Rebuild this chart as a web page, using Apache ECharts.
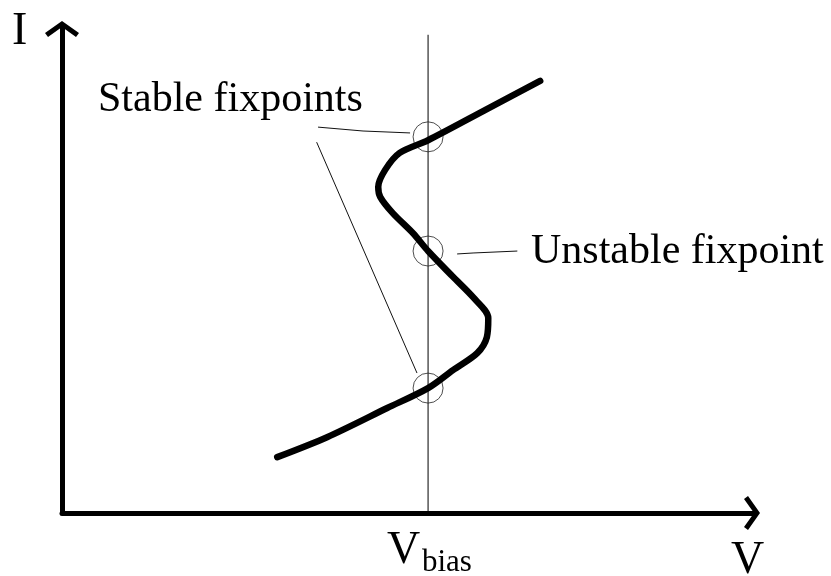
<!DOCTYPE html>
<html>
<head>
<meta charset="utf-8">
<script src="https://cdn.jsdelivr.net/npm/echarts@6/dist/echarts.min.js"></script>
<style>
  html, body { margin: 0; padding: 0; background: #fff; }
  #chart { width: 831px; height: 576px; }
</style>
</head>
<body>
<div id="chart"></div>
<script>
// S-shaped I(V) curve (V, I in arbitrary units 0..10)
var curveV = [3.11, 3.83, 4.70, 5.29, 5.65, 6.00, 6.14, 6.16, 5.94, 5.65, 5.29, 5.07, 4.78, 4.60, 4.57, 4.67, 4.88, 5.29, 6.14, 6.91];
var curveI = [1.15, 1.56, 2.16, 2.57, 2.94, 3.29, 3.62, 4.01, 4.44, 4.86, 5.39, 5.76, 6.17, 6.50, 6.71, 7.06, 7.41, 7.67, 8.31, 8.89];

var vBias = 5.29;
var vBiasTop = 9.84;

// fixpoints on the bias line
var fixI = [7.74, 5.39, 2.57];

// leader lines from the labels
var stableLeadV = [3.70, 4.35, 5.03];
var stableLeadI = [7.94, 7.86, 7.82];
var stableLead2V = [3.68, 5.13];
var stableLead2I = [7.63, 2.88];
var unstableLeadV = [5.71, 5.94, 6.58];
var unstableLeadI = [5.33, 5.35, 5.39];

function pairs(xs, ys) {
    var out = [];
    for (var i = 0; i < xs.length; i++) {
        out.push([xs[i], ys[i]]);
    }
    return out;
}

var serif = 'Liberation Serif';
var chevron = 'path://M17,0 L34,12 L31,16 L17,6 L3,16 L0,12 Z';

var axisCommon = {
    type: 'value',
    min: 0,
    max: 10,
    axisLine: {
        show: true,
        symbol: ['none', chevron],
        symbolSize: [34, 16],
        symbolOffset: [0, -2],
        lineStyle: { color: '#000', width: 5 }
    },
    axisTick: { show: false },
    axisLabel: { show: false },
    splitLine: { show: false }
};

var myChart = echarts.init(document.getElementById('chart'));

var option = {
    animation: false,
    backgroundColor: '#fff',
    grid: { left: 62, right: 77, top: 27, bottom: 63, containLabel: false },
    xAxis: axisCommon,
    yAxis: axisCommon,
    series: [
        {
            // bias line
            type: 'line',
            data: [[vBias, 0], [vBias, vBiasTop]],
            symbol: 'none',
            lineStyle: { color: '#000', width: 1 },
            z: 2
        },
        {
            type: 'line',
            data: pairs(stableLeadV, stableLeadI),
            symbol: 'none',
            lineStyle: { color: '#111', width: 1 },
            z: 2
        },
        {
            type: 'line',
            data: pairs(stableLead2V, stableLead2I),
            symbol: 'none',
            lineStyle: { color: '#111', width: 1 },
            z: 2
        },
        {
            type: 'line',
            data: pairs(unstableLeadV, unstableLeadI),
            symbol: 'none',
            lineStyle: { color: '#111', width: 1 },
            z: 2
        },
        {
            // fixpoint circles
            type: 'scatter',
            data: fixI.map(function (v) { return [vBias, v]; }),
            symbol: 'circle',
            symbolSize: 30,
            itemStyle: { color: 'rgba(0,0,0,0)', borderColor: '#222', borderWidth: 1 },
            z: 3
        },
        {
            type: 'line',
            data: pairs(curveV, curveI),
            symbol: 'none',
            smooth: 0.3,
            lineStyle: { color: '#000', width: 6.5, cap: 'round', join: 'round' },
            z: 4
        }
    ],
    graphic: [
        { type: 'text', left: 12, top: 9, style: { text: 'I', font: '46px "' + serif + '"', fill: '#000' } },
        { type: 'text', left: 731, top: 538, style: { text: 'V', font: '46px "' + serif + '"', fill: '#000' } },
        { type: 'text', left: 387, top: 528, style: { text: 'V', font: '46px "' + serif + '"', fill: '#000' } },
        { type: 'text', left: 422, top: 547, style: { text: 'bias', font: '31px "' + serif + '"', fill: '#000' } },
        { type: 'text', left: 98, top: 79, style: { text: 'Stable fixpoints', font: '42px "' + serif + '"', fill: '#000' } },
        { type: 'text', left: 531, top: 231, style: { text: 'Unstable fixpoint', font: '42px "' + serif + '"', fill: '#000' } }
    ]
};

myChart.setOption(option);
</script>
</body>
</html>
